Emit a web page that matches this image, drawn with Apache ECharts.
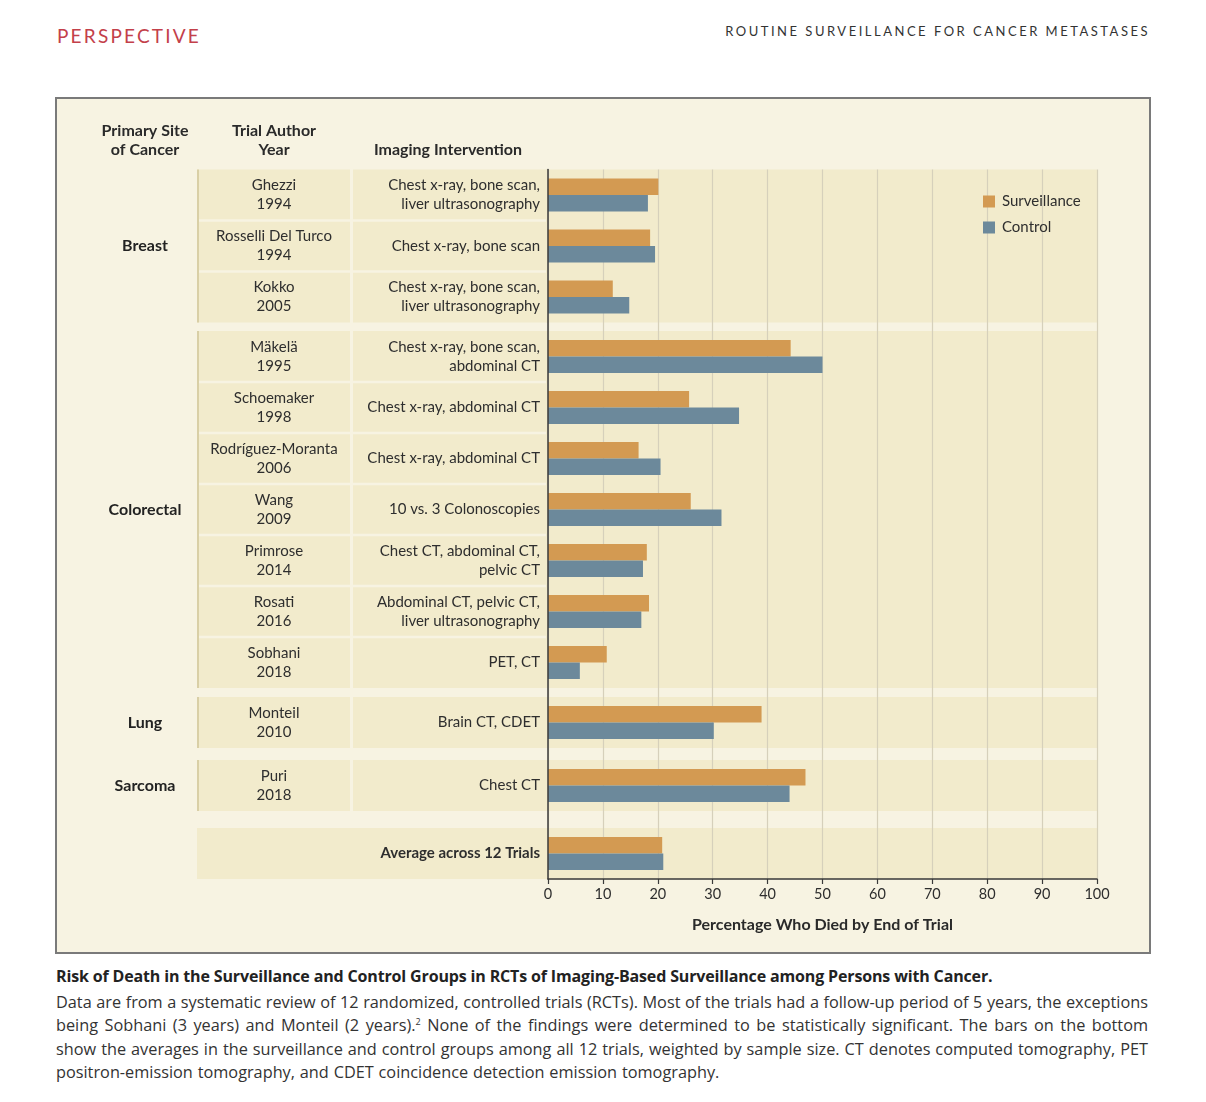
<!DOCTYPE html>
<html>
<head>
<meta charset="utf-8">
<script src="https://cdn.jsdelivr.net/npm/echarts@6/dist/echarts.min.js"></script>
<style>
  html, body { margin: 0; padding: 0; background: #ffffff; }
  body { width: 1206px; height: 1102px; position: relative; overflow: hidden; font-family: Lato, "Open Sans", sans-serif; color: #2b2b2b; }
  #chart { position: absolute; left: 0; top: 0; width: 1206px; height: 960px; }
  #hdrL { position: absolute; left: 57px; top: 24px; font-size: 19px; letter-spacing: 2.2px; color: #c3404a; }
  #hdrR { position: absolute; right: 56px; top: 23px; font-size: 13px; letter-spacing: 2.5px; color: #333; }
  #cap { position: absolute; left: 56px; top: 963px; width: 1092px; font-family: "Open Sans", Lato, sans-serif; }
  #capT { font-weight: bold; font-size: 16px; line-height: 26px; color: #222; letter-spacing: -0.15px; }
  .ln { font-size: 16.3px; line-height: 23.4px; text-align: justify; text-align-last: justify; white-space: nowrap; color: #333; }
  .ln.first { margin-top: 2px; }
  .ln.last { text-align-last: left; word-spacing: 0.6px; }
</style>
</head>
<body>
<div id="hdrL">PERSPECTIVE</div>
<div id="hdrR">ROUTINE SURVEILLANCE FOR CANCER METASTASES</div>
<div id="chart"></div>
<div id="cap">
  <div id="capT">Risk of Death in the Surveillance and Control Groups in RCTs of Imaging-Based Surveillance among Persons with Cancer.</div>
  <div class="ln first">Data are from a systematic review of 12 randomized, controlled trials (RCTs). Most of the trials had a follow-up period of 5 years, the exceptions</div>
  <div class="ln">being Sobhani (3 years) and Monteil (2 years).<sup style="font-size:9px;line-height:0">2</sup> None of the findings were determined to be statistically significant. The bars on the bottom</div>
  <div class="ln">show the averages in the surveillance and control groups among all 12 trials, weighted by sample size. CT denotes computed tomography, PET</div>
  <div class="ln last">positron-emission tomography, and CDET coincidence detection emission tomography.</div>
</div>
<script>
// ---------------- data ----------------
const columnHeaders = ["Primary Site\nof Cancer", "Trial Author\nYear", "Imaging Intervention"];
const trials = [
  "Ghezzi\n1994", "Rosselli Del Turco\n1994", "Kokko\n2005",
  "Mäkelä\n1995", "Schoemaker\n1998", "Rodríguez-Moranta\n2006", "Wang\n2009",
  "Primrose\n2014", "Rosati\n2016", "Sobhani\n2018",
  "Monteil\n2010", "Puri\n2018", ""
];
const interventions = [
  "Chest x-ray, bone scan,\nliver ultrasonography", "Chest x-ray, bone scan", "Chest x-ray, bone scan,\nliver ultrasonography",
  "Chest x-ray, bone scan,\nabdominal CT", "Chest x-ray, abdominal CT", "Chest x-ray, abdominal CT", "10 vs. 3 Colonoscopies",
  "Chest CT, abdominal CT,\npelvic CT", "Abdominal CT, pelvic CT,\nliver ultrasonography", "PET, CT",
  "Brain CT, CDET", "Chest CT", "Average across 12 Trials"
];
const siteNames = ["Breast", "Colorectal", "Lung", "Sarcoma", ""];
const siteCounts = [3, 7, 1, 1, 1];
const surveillance = [20.1, 18.6, 11.8, 44.2, 25.7, 16.5, 26.0, 18.0, 18.4, 10.7, 38.9, 46.9, 20.8];
const control      = [18.2, 19.5, 14.8, 50.0, 34.8, 20.5, 31.6, 17.3, 17.0, 5.8, 30.2, 44.0, 21.0];
const xTicks = { min: 0, max: 100, interval: 10 };

// ---------------- layout ----------------
const FONT = 'Lato, "Open Sans", sans-serif';
const plotL = 548, plotR = 1097, rowH = 51;
const groupTops = [169.5, 331, 697, 760, 828];
const authL = 197, authR = 350, intL = 353;
const C_SURV = '#d39a52', C_CTRL = '#6c899b';
const C_PANEL = '#f7f3e2', C_BAND = '#f2ebcc', C_GRID = '#d6d0bb', C_AX = '#3a3a3a';

const chart = echarts.init(document.getElementById('chart'), null, { renderer: 'canvas' });

const grids = [], xAxes = [], yAxes = [], series = [], graphics = [];

// frame
graphics.push({ type: 'rect', z: -100, shape: { x: 56, y: 98, width: 1094, height: 855 },
  style: { fill: C_PANEL, stroke: '#7a7a7a', lineWidth: 2 } });

// column headers
const hdrStyle = { fontFamily: FONT, fontSize: 16, fontWeight: 'bold', fill: '#2a2a2a', lineHeight: 19, align: 'center', verticalAlign: 'bottom' };
graphics.push({ type: 'text', z: 10, x: 145, y: 159, style: Object.assign({ text: columnHeaders[0] }, hdrStyle) });
graphics.push({ type: 'text', z: 10, x: 274, y: 159, style: Object.assign({ text: columnHeaders[1] }, hdrStyle) });
graphics.push({ type: 'text', z: 10, x: 448, y: 159, style: Object.assign({ text: columnHeaders[2] }, hdrStyle) });

let start = 0;
siteCounts.forEach((n, gi) => {
  const top = groupTops[gi];
  const isAvg = siteNames[gi] === '';
  const cats = trials.slice(start, start + n);
  const ints = interventions.slice(start, start + n);
  if (isAvg) {
    graphics.push({ type: 'rect', z: -90, shape: { x: authL, y: top, width: plotR - authL, height: n * rowH }, style: { fill: C_BAND } });
  } else {
    graphics.push({ type: 'rect', z: -90, shape: { x: plotL - 2, y: top, width: plotR - plotL + 2, height: n * rowH }, style: { fill: C_BAND } });
    for (let r = 0; r < n; r++) {
      const y0 = top + r * rowH + (r > 0 ? 1.2 : 0);
      const h = rowH - (r > 0 ? 1.2 : 0) - (r < n - 1 ? 1.2 : 0);
      graphics.push({ type: 'rect', z: -90, shape: { x: authL, y: y0, width: authR - authL, height: h }, style: { fill: C_BAND } });
      graphics.push({ type: 'rect', z: -90, shape: { x: intL, y: y0, width: plotL - intL, height: h }, style: { fill: C_BAND } });
    }
    graphics.push({ type: 'line', z: -80, shape: { x1: authL + 1, y1: top, x2: authL + 1, y2: top + n * rowH }, style: { stroke: '#d9cfa6', lineWidth: 2 } });
  }

  const gIdx = grids.length;
  grids.push({ left: plotL, top: top, width: plotR - plotL, height: n * rowH, containLabel: false, outerBoundsMode: 'none' });
  xAxes.push({ gridIndex: gIdx, type: 'value', min: xTicks.min, max: xTicks.max, interval: xTicks.interval, show: false });
  const y0 = yAxes.length;
  const baseY = { gridIndex: gIdx, type: 'category', data: cats, inverse: true, position: 'left', offset: 0,
    axisLine: { show: false }, axisTick: { show: false }, splitLine: { show: false } };
  yAxes.push(Object.assign({}, baseY, {
    data: ints,
    axisLabel: { interval: 0, margin: 8, align: 'right', fontFamily: FONT, fontSize: 15, lineHeight: 19,
      color: '#2e2e2e', fontWeight: isAvg ? 'bold' : 'normal' }
  }));
  yAxes.push(Object.assign({}, baseY, {
    axisLabel: { interval: 0, margin: plotL - 274, align: 'center', fontFamily: FONT, fontSize: 15, lineHeight: 19, color: '#2e2e2e' }
  }));
  yAxes.push(Object.assign({}, baseY, {
    axisLabel: { interval: 0, margin: plotL - 145, align: 'center', fontFamily: FONT, fontSize: 16, fontWeight: 'bold', color: '#222',
      formatter: (v, i) => (i === Math.floor(n / 2) ? siteNames[gi] : '') }
  }));
  series.push({ type: 'bar', name: 'Surveillance', xAxisIndex: gIdx, yAxisIndex: y0, barWidth: 16.5, barGap: '0%',
    itemStyle: { color: C_SURV }, data: surveillance.slice(start, start + n), z: 3 });
  series.push({ type: 'bar', name: 'Control', xAxisIndex: gIdx, yAxisIndex: y0, barWidth: 16.5, barGap: '0%',
    itemStyle: { color: C_CTRL }, data: control.slice(start, start + n), z: 3 });
  start += n;
});

// background grid: gridlines, x axis and y axis line
const bIdx = grids.length;
const bTop = groupTops[0];
const bBottom = groupTops[groupTops.length - 1] + siteCounts[siteCounts.length - 1] * rowH;
grids.push({ left: plotL, top: bTop, width: plotR - plotL, height: bBottom - bTop, containLabel: false, outerBoundsMode: 'none' });
xAxes.push({ gridIndex: bIdx, type: 'value', min: xTicks.min, max: xTicks.max, interval: xTicks.interval, position: 'bottom',
  axisLine: { show: true, lineStyle: { color: C_AX, width: 1.5 } },
  axisTick: { show: true, length: 5, lineStyle: { color: C_AX, width: 1.2 } },
  splitLine: { show: true, lineStyle: { color: C_GRID, width: 1.2 } },
  axisLabel: { margin: 8, fontFamily: FONT, fontSize: 14.5, color: '#2e2e2e' },
  name: 'Percentage Who Died by End of Trial', nameLocation: 'middle', nameGap: 38,
  nameTextStyle: { fontFamily: FONT, fontSize: 16, fontWeight: 'bold', color: '#2a2a2a' } });
yAxes.push({ gridIndex: bIdx, type: 'value', min: 0, max: 1, position: 'left',
  axisLine: { show: true, lineStyle: { color: C_AX, width: 1.5 } },
  axisTick: { show: false }, axisLabel: { show: false }, splitLine: { show: false }, z: 5 });

chart.setOption({
  animation: false,
  backgroundColor: 'transparent',
  textStyle: { fontFamily: FONT },
  graphic: graphics,
  legend: { data: ['Surveillance', 'Control'], orient: 'vertical', left: 983, top: 194, padding: 0, itemGap: 11,
    itemWidth: 12, itemHeight: 12, icon: 'rect', selectedMode: false,
    textStyle: { fontFamily: FONT, fontSize: 15, color: '#2e2e2e', padding: [0, 0, 0, 2] } },
  grid: grids,
  xAxis: xAxes,
  yAxis: yAxes,
  series: series
});
</script>
</body>
</html>
